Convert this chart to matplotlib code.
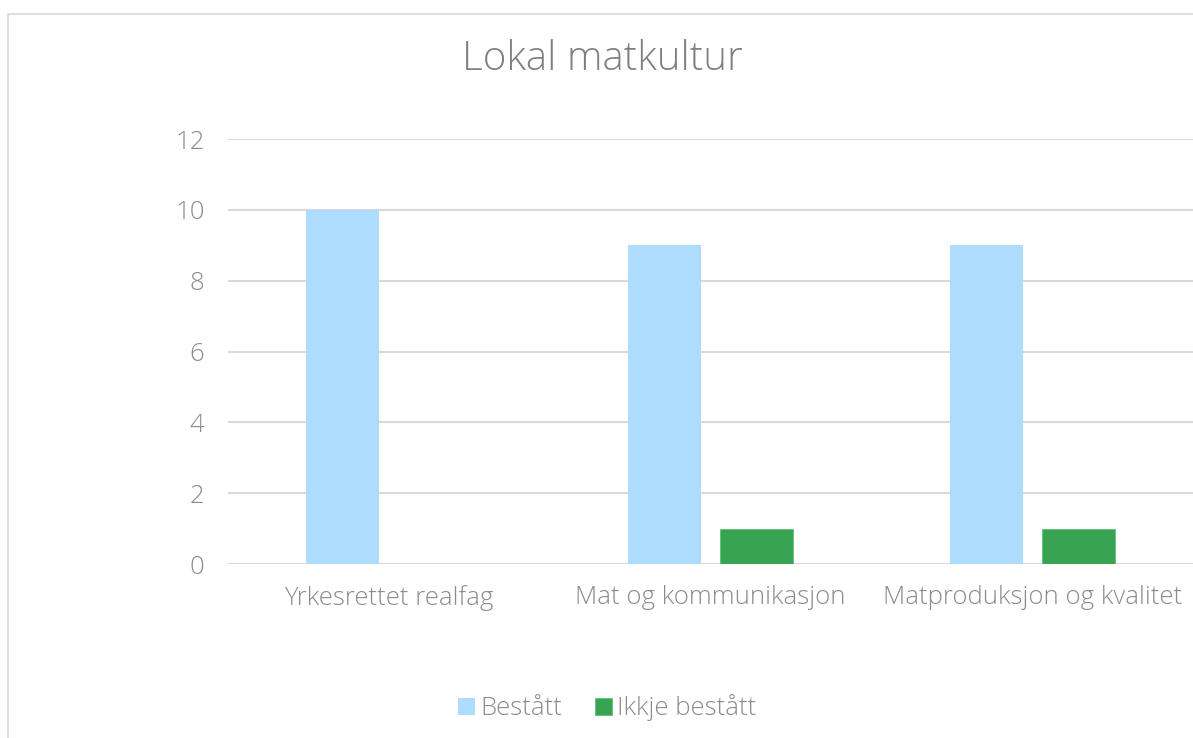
import matplotlib.pyplot as plt
import matplotlib.patches as mpatches
import numpy as np

categories = ["Yrkesrettet realfag", "Mat og kommunikasjon", "Matproduksjon og kvalitet"]
bestatt = [10, 9, 9]
ikkje_bestatt = [0, 1, 1]
yticks = [0, 2, 4, 6, 8, 10, 12]

plt.rcParams["font.family"] = ["Open Sans", "DejaVu Sans"]
plt.rcParams["font.weight"] = "light"
txt = "#8c8c8c"

fig = plt.figure(figsize=(11.93, 7.38), dpi=100)
ax = fig.add_axes([228 / 1193, 1 - 564 / 738, 965 / 1193, 425 / 738])

# chart frame (top and left edge visible)
fig.add_artist(mpatches.Rectangle((8 / 1193, -0.1), 1.2, 1 - 14 / 738 + 0.1,
                                  transform=fig.transFigure, fill=False,
                                  edgecolor="#d9d9d9", lw=1.2))

x = np.arange(len(categories))
w = 0.227
ax.bar(x - 0.143, bestatt, w, color="#addcfe", label="Bestått", zorder=3)
ax.bar(x + 0.143, ikkje_bestatt, w, color="#38a452", edgecolor="#5cc276", lw=0.6,
       label="Ikkje bestått", zorder=3)

ax.set_xlim(-0.5, 2.5)
ax.set_ylim(0, 12)
ax.set_yticks(yticks)
ax.set_xticks(x)
ax.set_xticklabels(categories)
ax.grid(axis="y", color="#d9d9d9", lw=1.5, zorder=0)
for s in ax.spines.values():
    s.set_visible(False)
ax.tick_params(length=0, labelsize=18.5, colors=txt, pad=0)
ax.tick_params(axis="y", pad=17)
ax.tick_params(axis="x", pad=15)

fig.text(0.505, 1 - 60 / 738, "Lokal matkultur", ha="center", va="center",
         fontsize=29, color="#808080")

fig.legend(loc="center", bbox_to_anchor=(0.509, 1 - 708 / 738), ncol=2, frameon=False,
           fontsize=18.5, labelcolor=txt, handlelength=0.65, handleheight=0.65,
           handletextpad=0.2, columnspacing=1.3)

fig.savefig("out.png", dpi=100)
